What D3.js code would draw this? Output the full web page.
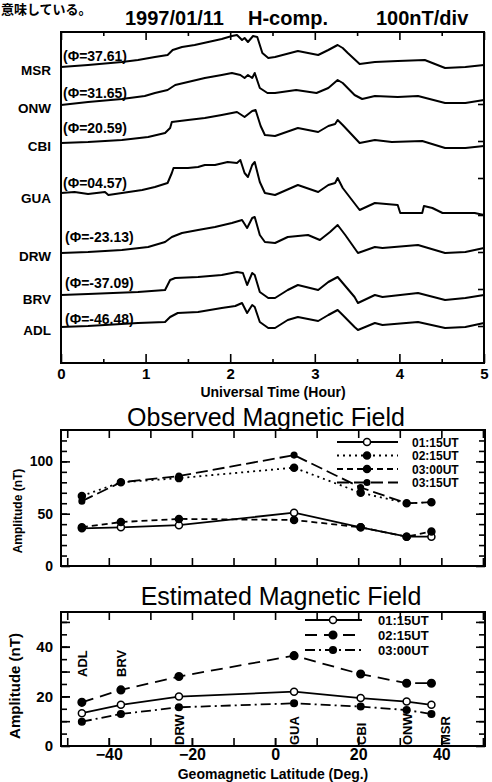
<!DOCTYPE html>
<html><head><meta charset="utf-8">
<script src="https://cdn.jsdelivr.net/npm/d3@7"></script>
<style>body{margin:0;background:#fff}svg{display:block}</style>
</head><body>
<svg id="c" width="492" height="782"></svg>
<script>
// ---------------- DATA ----------------
const stations = ["MSR","ONW","CBI","GUA","DRW","BRV","ADL"];
const latitudes = [37.61, 31.65, 20.59, 4.57, -23.13, -37.09, -46.48];
const latLabels = ["(Φ=37.61)","(Φ=31.65)","(Φ=20.59)","(Φ=04.57)","(Φ=-23.13)","(Φ=-37.09)","(Φ=-46.48)"];
// stacking offsets of the traces (nT)
const traceOffsets = [592, 516, 440, 336, 220, 134, 72];
// H-component traces: [hour, deviation nT]
const traceMSR = [[0,0],[0.32,4],[0.72,10],[0.91,14],[1.11,20],[1.26,24],[1.32,34],[1.43,40],[1.58,44],[1.74,50],[1.90,56],[2.02,62],[2.08,64],[2.14,54],[2.17,58],[2.21,50],[2.27,62],[2.32,60],[2.38,28],[2.45,18],[2.53,20],[2.80,32],[3.04,24],[3.16,34],[3.27,44],[3.33,38],[3.39,28],[3.53,6],[3.71,10],[3.98,12],[4.30,14],[4.54,-2],[4.78,0],[5.0,4]];
const traceONW = [[0,0],[0.32,6],[0.72,12],[0.99,18],[1.11,24],[1.26,30],[1.35,40],[1.50,46],[1.70,54],[1.90,60],[2.02,64],[2.12,60],[2.17,54],[2.21,60],[2.26,54],[2.29,64],[2.35,34],[2.44,24],[2.53,24],[2.78,30],[3.02,24],[3.16,34],[3.27,50],[3.33,44],[3.47,20],[3.56,12],[3.71,18],[3.98,16],[4.22,18],[4.54,4],[4.78,4],[5.0,10]];
const traceCBI = [[0,0],[0.32,2],[0.72,6],[1.03,12],[1.23,20],[1.29,30],[1.31,42],[1.50,46],[1.70,50],[1.90,56],[2.08,62],[2.17,52],[2.26,64],[2.30,66],[2.36,34],[2.41,16],[2.53,14],[2.80,30],[3.04,22],[3.16,34],[3.24,38],[3.27,46],[3.33,36],[3.53,0],[3.71,6],[3.91,2],[4.27,4],[4.54,-10],[4.78,-10],[5.0,-6]];
const traceGUA = [[0,4],[0.16,6],[0.32,2],[0.52,6],[0.56,0],[0.72,4],[0.96,10],[1.11,16],[1.26,24],[1.31,44],[1.33,54],[1.50,54],[1.62,56],[1.70,60],[1.82,60],[1.97,66],[2.08,64],[2.12,70],[2.17,44],[2.21,36],[2.26,60],[2.29,66],[2.35,26],[2.41,4],[2.53,0],[2.80,20],[3.04,6],[3.16,20],[3.24,24],[3.27,34],[3.33,14],[3.53,-30],[3.71,-16],[3.98,-20],[4.01,-36],[4.27,-36],[4.29,-22],[4.39,-26],[4.51,-36],[4.89,-36],[5.0,-40]];
const traceDRW = [[0,0],[0.32,2],[0.72,6],[1.03,12],[1.23,22],[1.31,32],[1.43,40],[1.62,46],[1.82,52],[2.02,60],[2.14,66],[2.20,50],[2.26,70],[2.29,72],[2.35,36],[2.41,22],[2.53,20],[2.68,32],[2.92,36],[3.06,26],[3.18,42],[3.27,56],[3.36,36],[3.51,0],[3.71,12],[3.80,10],[4.22,16],[4.54,0],[4.78,2],[5.0,10]];
const traceBRV = [[0,2],[0.32,4],[0.91,8],[1.23,12],[1.29,32],[1.35,36],[1.62,38],[1.90,42],[2.08,48],[2.15,46],[2.20,22],[2.26,46],[2.29,42],[2.35,8],[2.45,-4],[2.53,-4],[2.68,12],[2.80,22],[3.04,12],[3.16,28],[3.27,38],[3.33,26],[3.47,-2],[3.51,-14],[3.71,2],[3.80,-2],[4.22,6],[4.54,-8],[4.78,-4],[5.0,2]];
const traceADL = [[0,0],[0.32,2],[0.91,8],[1.23,10],[1.29,20],[1.38,28],[1.62,30],[1.90,38],[2.06,42],[2.14,48],[2.20,28],[2.26,44],[2.29,40],[2.35,10],[2.45,-2],[2.53,-2],[2.68,14],[2.80,20],[3.04,12],[3.16,24],[3.27,34],[3.33,24],[3.47,0],[3.51,-6],[3.71,8],[3.80,4],[4.22,10],[4.54,-2],[4.78,0],[5.0,8]];
const traces = [traceMSR, traceONW, traceCBI, traceGUA, traceDRW, traceBRV, traceADL];
const hourTicks = [0,1,2,3,4,5];

// Observed amplitude (nT), station order as `stations`
const obsTimes = ["01:15UT","02:15UT","03:00UT","03:15UT"];
const obs0115 = [28, 28, 37, 51, 39, 37, 36];
const obs0215 = [61, 60, 70, 94, 84, 80, 67];
const obs0300 = [33, 28, 37, 44, 45, 42, 37];
const obs0315 = [61, 60, 75, 106, 86, 80, 62];
const obsTicks = [0, 50, 100];

// Estimated amplitude (nT)
const estTimes = ["01:15UT","02:15UT","03:00UT"];
const est0115 = [16.6, 17.9, 19.3, 21.9, 19.9, 16.6, 13.2];
const est0215 = [25.3, 25.3, 29.0, 36.4, 28.0, 22.6, 17.6];
const est0300 = [12.9, 14.5, 15.9, 17.2, 15.6, 12.9, 9.8];
const estTicks = [0, 20, 40];
const latTicks = [-40, -20, 0, 20, 40];

// ---------------- DRAW ----------------
const FONT = "'Liberation Sans', Arial, Helvetica, sans-serif";
const svg = d3.select("#c");
function txt(x, y, s, size, weight, anchor) {
  return svg.append("text").attr("x", x).attr("y", y).attr("font-family", FONT)
    .attr("font-size", size).attr("font-weight", weight || "normal")
    .attr("text-anchor", anchor || "start").attr("fill", "#000").text(s);
}
function styleAxis(g, size) {
  g.select(".domain").remove();
  g.selectAll("line").attr("stroke", "#000").attr("stroke-width", 1.6);
  g.attr("font-family", FONT).attr("font-size", size || 14).attr("font-weight", "bold");
  g.selectAll("text").attr("fill", "#000");
}

// header
svg.append("text").attr("x", 1).attr("y", 14).attr("font-family", "'Noto Sans CJK JP'")
  .attr("font-size", 13).attr("font-weight", "bold").text("意味している。");
txt(125, 25, "1997/01/11", 20, "bold");
txt(248, 25, "H-comp.", 20, "bold");
txt(376, 25, "100nT/div", 20, "bold");

// ---- top panel ----
const xT = d3.scaleLinear().domain([0, 5]).range([61, 484]);
const yT = d3.scaleLinear().domain([0, 660]).range([363, 33]);
const divScale = d3.scaleLinear().domain([0, 330 / 37]).range([363, 33]);

svg.append("g").attr("transform", "translate(0,363)")
  .call(d3.axisBottom(xT).tickValues(d3.range(0.5, 5, 1)).tickSize(-4).tickFormat(""))
  .call(g => styleAxis(g));
svg.append("g").attr("transform", "translate(0,363)")
  .call(d3.axisBottom(xT).tickValues(hourTicks).tickSize(-9).tickPadding(5).tickFormat(d3.format("d")))
  .call(g => styleAxis(g, 15));
svg.append("g").attr("transform", "translate(0,32)")
  .call(d3.axisTop(xT).tickValues(d3.range(0.5, 5, 1)).tickSize(-4).tickFormat(""))
  .call(g => styleAxis(g));
svg.append("g").attr("transform", "translate(0,32)")
  .call(d3.axisTop(xT).tickValues(hourTicks).tickSize(-8).tickFormat(""))
  .call(g => styleAxis(g));
svg.append("g").attr("transform", "translate(484,0)")
  .call(d3.axisLeft(divScale).tickValues(d3.range(1, 8)).tickSize(6).tickFormat(""))
  .call(g => styleAxis(g));

svg.append("rect").attr("x", 61).attr("y", 32).attr("width", 423).attr("height", 331)
  .attr("fill", "none").attr("stroke", "#000").attr("stroke-width", 2);

const labelDy = [-6, -7, -10, -7, -11, -8, -3];
traces.forEach((tr, i) => {
  const off = traceOffsets[i];
  const line = d3.line().x(d => xT(d[0])).y(d => yT(off + d[1]));
  svg.append("path").datum(tr).attr("d", line).attr("fill", "none")
    .attr("stroke", "#000").attr("stroke-width", 2).attr("stroke-linejoin", "round");
  txt(i < 4 ? 63 : 65, yT(off) + labelDy[i], latLabels[i], 14, "bold");
  txt(51, yT(off) + 8, stations[i], 13.5, "bold", "end");
});
txt(273, 397, "Universal Time (Hour)", 14, "bold", "middle");

// ---- middle panel ----
const xL = d3.scaleLinear().domain([-51.5, 50.5]).range([61, 485]);
const yO = d3.scaleLinear().domain([0, 130]).range([566, 430]);

txt(266, 426, "Observed Magnetic Field", 25, "normal", "middle");

function frameTicks(y, yTickVals, yMinorVals, majorLen, minorLen) {
  const b = y.range()[0], tp = y.range()[1];
  svg.append("g").attr("transform", `translate(0,${b})`)
    .call(d3.axisBottom(xL).tickValues(d3.range(-50, 51, 10)).tickSize(-8).tickFormat(""))
    .call(g => styleAxis(g));
  svg.append("g").attr("transform", `translate(0,${tp})`)
    .call(d3.axisTop(xL).tickValues(d3.range(-50, 51, 10)).tickSize(-8).tickFormat(""))
    .call(g => styleAxis(g));
  svg.append("g").attr("transform", "translate(61,0)")
    .call(d3.axisRight(y).tickValues(yMinorVals).tickSize(minorLen).tickFormat(""))
    .call(g => styleAxis(g));
  svg.append("g").attr("transform", "translate(485,0)")
    .call(d3.axisLeft(y).tickValues(yMinorVals).tickSize(minorLen).tickFormat(""))
    .call(g => styleAxis(g));
  svg.append("g").attr("transform", "translate(485,0)")
    .call(d3.axisLeft(y).tickValues(yTickVals).tickSize(majorLen).tickFormat(""))
    .call(g => styleAxis(g));
  svg.append("rect").attr("x", 61).attr("y", tp).attr("width", 424).attr("height", b - tp)
    .attr("fill", "none").attr("stroke", "#000").attr("stroke-width", 2);
}
frameTicks(yO, obsTicks, d3.range(10, 130, 10), 9, 6);
svg.append("g").attr("transform", "translate(61,0)")
  .call(d3.axisLeft(yO).tickValues(obsTicks).tickSize(-9).tickPadding(8))
  .call(g => styleAxis(g, 14));
svg.append("text").attr("transform", "translate(22,511) rotate(-90)").attr("text-anchor", "middle")
  .attr("font-family", FONT).attr("font-size", 12).attr("font-weight", "bold").text("Amplitude (nT)");

const obsSeries = [
  {vals: obs0115, dash: null, open: true, r: 3.5},
  {vals: obs0215, dash: "2,4", open: false, r: 3.5},
  {vals: obs0300, dash: "6,4", open: false, r: 3.5},
  {vals: obs0315, dash: "12,5", open: false, r: 2.8}
];
function drawSeries(series, y) {
  series.forEach(s => {
    const pts = s.vals.map((v, i) => [latitudes[i], v]).sort((a, b) => a[0] - b[0]);
    const line = d3.line().x(d => xL(d[0])).y(d => y(d[1]));
    svg.append("path").datum(pts).attr("d", line).attr("fill", "none").attr("stroke", "#000")
      .attr("stroke-width", 1.8).attr("stroke-dasharray", s.dash);
    svg.append("g").selectAll("circle").data(pts).join("circle")
      .attr("cx", d => xL(d[0])).attr("cy", d => y(d[1])).attr("r", s.r)
      .attr("fill", s.open ? "#fff" : "#000").attr("stroke", "#000").attr("stroke-width", 1.5);
  });
}
drawSeries(obsSeries, yO);
function legend(series, names, x0, x1, xm, xt, y0, dy, fs) {
  series.forEach((s, i) => {
    const y = y0 + i * dy;
    svg.append("line").attr("x1", x0).attr("x2", x1).attr("y1", y).attr("y2", y)
      .attr("stroke", "#000").attr("stroke-width", 1.8).attr("stroke-dasharray", s.dash);
    svg.append("circle").attr("cx", xm).attr("cy", y).attr("r", s.r)
      .attr("fill", s.open ? "#fff" : "#000").attr("stroke", "#000").attr("stroke-width", 1.5);
    txt(xt, y + 4.5, names[i], fs, "bold");
  });
}
legend(obsSeries, obsTimes, 337, 398, 367, 412, 442, 13.5, 12);

// ---- bottom panel ----
const yE = d3.scaleLinear().domain([0, 54]).range([746, 612]);
txt(281, 605, "Estimated Magnetic Field", 25, "normal", "middle");
frameTicks(yE, [0, 10, 20, 30, 40, 50], d3.range(5, 54, 5), 9, 6);
svg.append("g").attr("transform", "translate(61,0)")
  .call(d3.axisLeft(yE).tickValues(d3.range(10, 54, 10)).tickSize(-9).tickFormat(""))
  .call(g => styleAxis(g));
svg.append("g").attr("transform", "translate(61,0)")
  .call(d3.axisLeft(yE).tickValues(estTicks).tickSize(-9).tickPadding(8))
  .call(g => styleAxis(g, 15));
svg.append("g").attr("transform", "translate(0,746)")
  .call(d3.axisBottom(xL).tickValues(latTicks).tickSize(-8).tickPadding(3))
  .call(g => styleAxis(g, 16));
svg.append("text").attr("transform", "translate(20,686) rotate(-90)").attr("text-anchor", "middle")
  .attr("font-family", FONT).attr("font-size", 15).attr("font-weight", "bold").text("Amplitude (nT)");
txt(273, 779, "Geomagnetic Latitude (Deg.)", 14, "bold", "middle");

const estSeries = [
  {vals: est0115, dash: null, open: true, r: 3.5},
  {vals: est0215, dash: "12,7", open: false, r: 3.8},
  {vals: est0300, dash: "10,4,2,4", open: false, r: 3.3}
];
drawSeries(estSeries, yE);
legend(estSeries, estTimes, 305, 362, 333, 378, 620, 15, 13);

// station labels in bottom panel
stations.forEach((s, i) => {
  const lat = latitudes[i];
  const x = xL(lat) + (s === "MSR" ? 19 : 5);
  const y = lat < -30 ? 677 : 745;
  svg.append("text").attr("transform", `translate(${x},${y}) rotate(-90)`)
    .attr("font-family", FONT).attr("font-size", 13).attr("font-weight", "bold").text(s);
});
</script>
</body></html>
